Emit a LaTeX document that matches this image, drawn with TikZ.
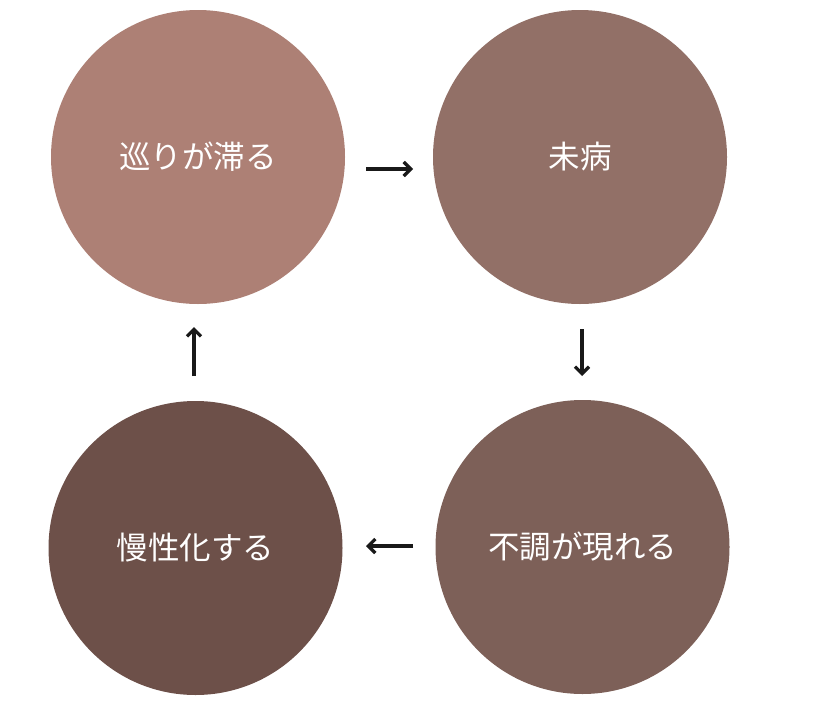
\documentclass[tikz,border=0pt]{standalone}
\usepackage{fontspec}
\newfontfamily\cjk{Noto Sans CJK JP}
\usetikzlibrary{arrows.meta}
\definecolor{cA}{HTML}{AD8075}
\definecolor{cB}{HTML}{927067}
\definecolor{cC}{HTML}{7D6058}
\definecolor{cD}{HTML}{6D5049}
\begin{document}
\begin{tikzpicture}[x=1pt,y=-1pt,
  blob/.style={circle,minimum size=294pt,inner sep=0pt,text=white,font=\cjk\fontsize{31.5}{34}\selectfont},
  flow/.style={line width=3.3pt,-{Straight Barb[length=7pt,width=14pt,line width=3.3pt]},black!90}]
\useasboundingbox (0,0) rectangle (827,720);
\node[blob,fill=cA] (a) at (198,157) {巡りが滞る};
\node[blob,fill=cB] (b) at (580,157) {未病};
\node[blob,fill=cC] (c) at (582.5,547) {不調が現れる};
\node[blob,fill=cD] (d) at (195.5,548) {慢性化する};
\coordinate (a1) at (366,169); \coordinate (a2) at (413,169);
\coordinate (b1) at (582,329); \coordinate (b2) at (582,376);
\coordinate (c1) at (413,546); \coordinate (c2) at (366,546);
\coordinate (d1) at (194,376); \coordinate (d2) at (194,327);
\draw[flow] (a1) -- (a2);
\draw[flow] (b1) -- (b2);
\draw[flow] (c1) -- (c2);
\draw[flow] (d1) -- (d2);
\end{tikzpicture}
\end{document}
